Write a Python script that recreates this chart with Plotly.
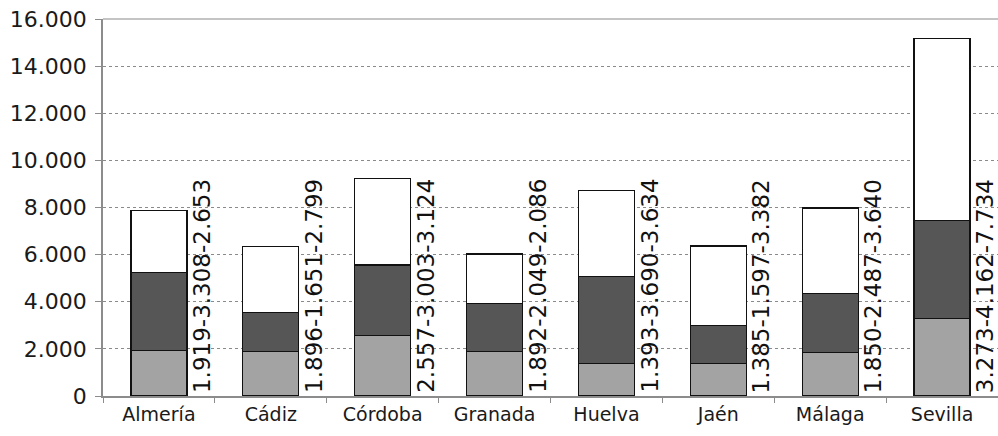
import plotly.graph_objects as go

provincias = ["Almería", "Cádiz", "Córdoba", "Granada", "Huelva", "Jaén", "Málaga", "Sevilla"]
serie1 = [1919, 1896, 2557, 1892, 1393, 1385, 1850, 3273]
serie2 = [3308, 1651, 3003, 2049, 3690, 1597, 2487, 4162]
serie3 = [2653, 2799, 3680, 2086, 3634, 3382, 3640, 7734]
etiquetas = [
    "1.919-3.308-2.653", "1.896-1.651-2.799", "2.557-3.003-3.124", "1.892-2.049-2.086",
    "1.393-3.690-3.634", "1.385-1.597-3.382", "1.850-2.487-3.640", "3.273-4.162-7.734",
]
y_ticks = [0, 2000, 4000, 6000, 8000, 10000, 12000, 14000, 16000]


def fmt(v):
    return f"{v:,}".replace(",", ".")


fig = go.Figure()
colors = ["#a3a3a3", "#565656", "#ffffff"]
for vals, c in zip([serie1, serie2, serie3], colors):
    fig.add_trace(go.Bar(
        x=provincias, y=vals, width=0.5,
        marker=dict(color=c, line=dict(color="#111111", width=1.2)),
        showlegend=False, hoverinfo="skip",
    ))

for i, p in enumerate(provincias):
    fig.add_annotation(
        x=i + 0.385, y=0, xref="x", yref="y", text=etiquetas[i], textangle=-90,
        showarrow=False, xanchor="center", yanchor="bottom", yshift=1,
        font=dict(family="DejaVu Sans", size=23, color="#111111"),
    )

fig.add_shape(type="line", xref="paper", yref="paper", x0=0, x1=1, y0=1, y1=1,
              line=dict(color="#b0b0b0", width=1.5))

fig.update_layout(
    barmode="stack",
    width=998, height=436,
    margin=dict(l=103, r=0, t=19, b=40, autoexpand=False),
    paper_bgcolor="#ffffff", plot_bgcolor="#ffffff",
    separators=",.",
)
fig.update_xaxes(
    type="category", range=[-0.5, 7.5], automargin=False,
    showline=True, linecolor="#8c8c8c", linewidth=1.5,
    ticks="outside", tickson="boundaries", ticklen=5, tickcolor="#8c8c8c",
    tickfont=dict(family="DejaVu Sans", size=19, color="#1a1a1a"),
    ticklabeloverflow="allow",
    showgrid=False,
)
fig.update_yaxes(
    range=[0, 16000], tickvals=y_ticks, ticktext=[fmt(v) for v in y_ticks],
    automargin=False, ticklabeloverflow="allow", ticklabelstandoff=4,
    showline=True, linecolor="#8c8c8c", linewidth=1.5,
    ticks="outside", ticklen=6, tickcolor="#8c8c8c",
    tickfont=dict(family="DejaVu Sans", size=22, color="#1a1a1a"),
    showgrid=True, gridcolor="#8a8a8a", gridwidth=1, griddash="dot",
    zeroline=False,
)

fig.write_html(
    "out.html",
    config={"displayModeBar": False},
    post_script="document.body.style.margin='0';document.documentElement.style.overflow='hidden';document.body.style.overflow='hidden';",
)
